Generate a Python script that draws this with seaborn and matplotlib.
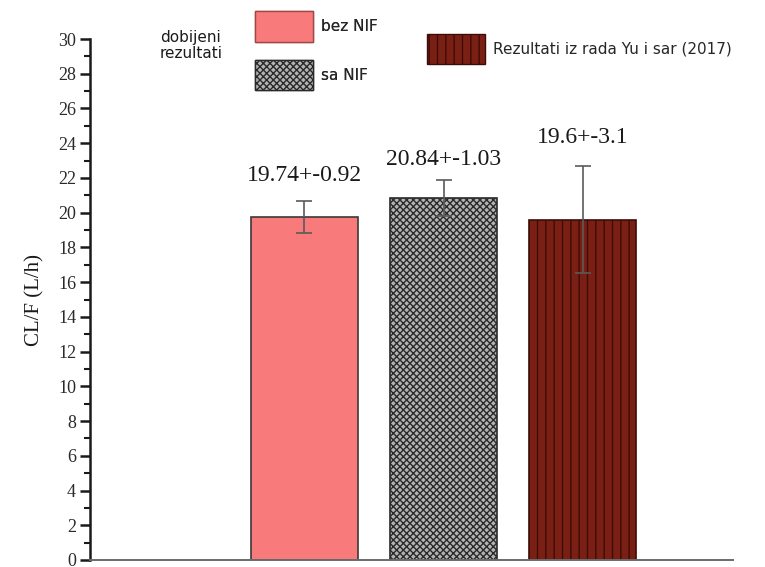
import matplotlib
matplotlib.use("Agg")
import matplotlib.pyplot as plt
import matplotlib.patches as mpatches
from matplotlib.ticker import MultipleLocator
import seaborn as sns
import pandas as pd

# Clearance values (mean and spread) for each group
categories = ["bez NIF", "sa NIF", "Rezultati iz rada Yu i sar (2017)"]
means = [19.74, 20.84, 19.6]
errors = [0.92, 1.03, 3.1]
value_labels = ["19.74+-0.92", "20.84+-1.03", "19.6+-3.1"]
y_ticks = list(range(0, 31, 2))

face_colors = ["#f87a7a", "#b4b4b4", "#7a1f14"]
edge_colors = ["#3a3a3a", "#2a2a2a", "#3e0c06"]
hatches = [None, "xxxxx", "||"]

sns.set_theme(style="white")
plt.rcParams["hatch.linewidth"] = 1.0

fig = plt.figure(figsize=(7.65, 5.67), dpi=100)
ax = fig.add_axes([90 / 765, 7 / 567, (733 - 90) / 765, 521 / 567])

df = pd.DataFrame({"grupa": categories, "CL": means})
sns.barplot(data=df, x="grupa", y="CL", hue="grupa", palette=face_colors,
            width=0.77, errorbar=None, legend=False, ax=ax, zorder=2)

for patch, fc, ec, h in zip(ax.patches, face_colors, edge_colors, hatches):
    patch.set_facecolor(fc)
    patch.set_edgecolor(ec)
    patch.set_linewidth(1.2)
    if h:
        patch.set_hatch(h)

positions = list(range(len(categories)))
ax.errorbar(positions, means, yerr=errors, fmt="none", ecolor="#5a5a5a",
            elinewidth=1.2, capsize=6, capthick=1.2, zorder=3)

# value annotations above each error bar
label_pad = [15, 10, 18]
for x, m, e, txt, pad in zip(positions, means, errors, value_labels, label_pad):
    ax.annotate(txt, xy=(x, m + e), xytext=(0, pad * 0.72),
                textcoords="offset points", ha="center", va="bottom",
                fontsize=17, family="Liberation Serif", color="#1a1a1a")

ax.set_xlim(-1.54, 3.08)
ax.set_ylim(0, 30)
ax.set_yticks(y_ticks)
ax.yaxis.set_minor_locator(MultipleLocator(1))
ax.set_xticks([])
ax.set_xlabel("")
ax.set_ylabel("CL/F (L/h)", family="Liberation Serif", fontsize=15,
              color="#1a1a1a", labelpad=10)

for lbl in ax.get_yticklabels():
    lbl.set_family("Liberation Serif")
    lbl.set_fontsize(13)
    lbl.set_color("#2a2a2a")

ax.tick_params(axis="y", which="major", direction="out", length=7, width=1.8,
               color="#1a1a1a", left=True, pad=3)
ax.tick_params(axis="y", which="minor", direction="out", length=4, width=1.5,
               color="#1a1a1a", left=True)

for side in ["top", "right"]:
    ax.spines[side].set_visible(False)
ax.spines["left"].set_color("#1a1a1a")
ax.spines["left"].set_linewidth(1.8)
ax.spines["bottom"].set_color("#6a6a6a")
ax.spines["bottom"].set_linewidth(1.4)
ax.grid(False)

# legend entries
legend_edges = ["#a04848", "#2a2a2a", "#3e0c06"]
handles = [mpatches.Patch(facecolor=fc, edgecolor=ec, hatch=h, linewidth=1.0, label=c)
           for fc, ec, h, c in zip(face_colors, legend_edges, hatches, categories)]

leg1 = fig.legend(handles=handles[:2], loc="upper left",
                  bbox_to_anchor=(255 / 765, 1 - 11.5 / 567), frameon=False,
                  fontsize=11, handlelength=3.8, handleheight=2.73,
                  handletextpad=0.55, labelspacing=1.13, borderpad=0,
                  borderaxespad=0)
leg2 = fig.legend(handles=handles[2:], loc="upper left",
                  bbox_to_anchor=(427 / 765, 1 - 33.5 / 567), frameon=False,
                  fontsize=11, handlelength=3.8, handleheight=2.73,
                  handletextpad=0.55, borderpad=0, borderaxespad=0)
fig.add_artist(leg1)

fig.text(160 / 765, 1 - 30 / 567, "dobijeni\nrezultati", ha="left", va="top",
         fontsize=11, color="#1a1a1a", linespacing=1.05)

fig.savefig("out.png", dpi=100)
